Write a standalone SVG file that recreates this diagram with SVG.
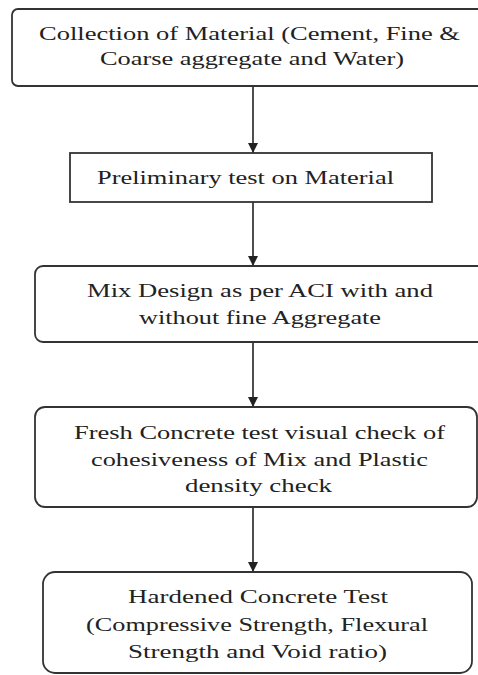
<svg xmlns="http://www.w3.org/2000/svg" width="478" height="675" viewBox="0 0 478 675">
<defs>
<style>
.box{fill:#fff;stroke:#333;stroke-width:1.8}
.t{font-family:'Liberation Serif','DejaVu Serif',serif;font-size:19px;fill:#222}
.c{stroke:#222;stroke-width:1.6;fill:none}
</style>
<marker id="ah" markerWidth="10" markerHeight="10" refX="10" refY="5" orient="auto" markerUnits="userSpaceOnUse" viewBox="0 0 10 10">
<path d="M0,0 L10,5 L0,10 Z" fill="#222"/>
</marker>
</defs>
<rect width="478" height="675" fill="#fff"/>
<g id="connectors">
<line class="c" x1="253" y1="86" x2="253" y2="153" marker-end="url(#ah)"/>
<line class="c" x1="253" y1="202" x2="253" y2="266" marker-end="url(#ah)"/>
<line class="c" x1="253" y1="342" x2="253" y2="407" marker-end="url(#ah)"/>
<line class="c" x1="253" y1="507" x2="253" y2="572" marker-end="url(#ah)"/>
</g>
<g id="n1">
<rect class="box" x="12" y="9" width="480" height="77" rx="6"/>
<text class="t" font-family="Liberation Serif, serif" x="39" y="40" textLength="421" lengthAdjust="spacingAndGlyphs">Collection of Material (Cement, Fine &amp;</text>
<text class="t" font-family="Liberation Serif, serif" x="100" y="65" textLength="304" lengthAdjust="spacingAndGlyphs">Coarse aggregate and Water)</text>
</g>
<g id="n2">
<rect class="box" x="70" y="153" width="362" height="49"/>
<text class="t" font-family="Liberation Serif, serif" x="97" y="184" textLength="297" lengthAdjust="spacingAndGlyphs">Preliminary test on Material</text>
</g>
<g id="n3">
<rect class="box" x="35" y="266" width="455" height="76" rx="8"/>
<text class="t" font-family="Liberation Serif, serif" x="87" y="297" textLength="346" lengthAdjust="spacingAndGlyphs">Mix Design as per ACI with and</text>
<text class="t" font-family="Liberation Serif, serif" x="139" y="324" textLength="242" lengthAdjust="spacingAndGlyphs">without fine Aggregate</text>
</g>
<g id="n4">
<rect class="box" x="35" y="407" width="442" height="100" rx="10"/>
<text class="t" font-family="Liberation Serif, serif" x="74" y="439" textLength="371" lengthAdjust="spacingAndGlyphs">Fresh Concrete test visual check of</text>
<text class="t" font-family="Liberation Serif, serif" x="91" y="466" textLength="337" lengthAdjust="spacingAndGlyphs">cohesiveness of Mix and Plastic</text>
<text class="t" font-family="Liberation Serif, serif" x="185" y="492" textLength="147" lengthAdjust="spacingAndGlyphs">density check</text>
</g>
<g id="n5">
<rect class="box" x="43" y="572" width="429" height="101" rx="12"/>
<text class="t" font-family="Liberation Serif, serif" x="128" y="603" textLength="260" lengthAdjust="spacingAndGlyphs">Hardened Concrete Test</text>
<text class="t" font-family="Liberation Serif, serif" x="86" y="631" textLength="342" lengthAdjust="spacingAndGlyphs">(Compressive Strength, Flexural</text>
<text class="t" font-family="Liberation Serif, serif" x="128" y="658" textLength="259" lengthAdjust="spacingAndGlyphs">Strength and Void ratio)</text>
</g>
</svg>
